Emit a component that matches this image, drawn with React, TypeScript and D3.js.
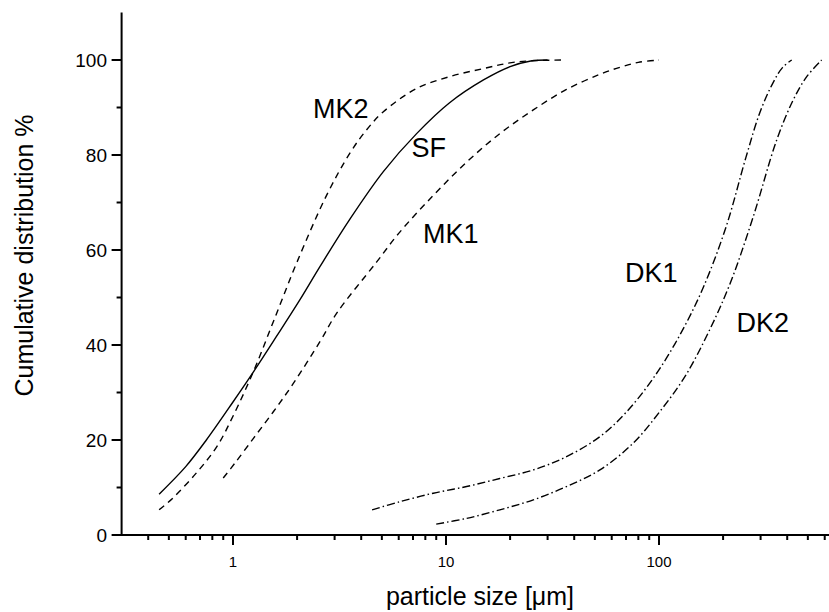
import React from "react";
import * as d3 from "d3";

// ---- data (particle size in µm, cumulative %) ----
const sfSize = [0.45, 0.6, 0.75, 1.0, 1.25, 1.6, 2.06, 2.56, 3.54, 5.08, 7.28, 10.4, 15, 20, 25, 30];
const sfCum = [8.6, 14.4, 20, 28, 34.4, 41.8, 49.5, 56.5, 66.5, 76.5, 84.5, 91, 95.8, 98.6, 99.8, 100];

const mk2Size = [0.45, 0.52, 0.68, 0.84, 1.0, 1.25, 1.55, 2.0, 2.75, 3.54, 4.24, 5.08, 7.28, 10.4, 15, 21.5, 35.5];
const mk2Cum = [5.3, 7.7, 13.3, 18.6, 25, 34.5, 45, 57.5, 71.5, 80.4, 85.3, 89.1, 94, 96.5, 98.2, 99.6, 100];

const mk1Size = [0.9, 1.02, 1.25, 1.55, 1.92, 2.56, 3.07, 4.73, 6.0, 8.72, 12.5, 17.9, 25.7, 36.8, 52.8, 66, 80, 100];
const mk1Cum = [12, 15.1, 20.4, 26, 31.9, 40.7, 46.7, 57.5, 63.5, 71.5, 78.5, 84.5, 89.5, 93.8, 97, 98.5, 99.5, 100];

const dk1Size = [4.5, 6.07, 8.72, 12.5, 17.9, 25.7, 36.8, 52.8, 70, 94, 125, 161, 207, 256, 298, 344, 380, 420];
const dk1Cum = [5.3, 7, 8.8, 10.2, 11.9, 13.7, 16.5, 20.7, 25.8, 33, 42, 52, 65, 79.5, 89, 95.3, 98.4, 100];

const dk2Size = [9, 12.5, 17.9, 25.7, 36.8, 52.8, 75.5, 101, 133, 170, 216, 277, 356, 426, 494, 580];
const dk2Cum = [2.3, 3.5, 5.3, 7.4, 10.2, 13.7, 19.3, 26, 33.5, 42.5, 53, 67, 83, 91.5, 96.5, 100];

const xMajorTicks = [1, 10, 100];
const yMajorTicks = [0, 20, 40, 60, 80, 100];
const yMinorTicks = [10, 30, 50, 70, 90];

const seriesNames = ["SF", "MK2", "MK1", "DK1", "DK2"];

export default function App() {
  const W = 829;
  const H = 612;
  const x0 = 121.6;
  const decade = 213;
  const xScale = d3
    .scaleLog()
    .domain([0.3, 630])
    .range([x0, x0 + decade * Math.log10(630 / 0.3)]);
  const yScale = d3.scaleLinear().domain([0, 110]).range([535, 12.5]);

  const line = d3
    .line<[number, number]>()
    .x((d) => xScale(d[0]))
    .y((d) => yScale(d[1]))
    .curve(d3.curveCatmullRom.alpha(0.5));

  const zip = (a: number[], b: number[]) => a.map((v, i) => [v, b[i]] as [number, number]);

  const series = [
    { name: seriesNames[0], pts: zip(sfSize, sfCum), dash: "none" },
    { name: seriesNames[1], pts: zip(mk2Size, mk2Cum), dash: "6.5,5" },
    { name: seriesNames[2], pts: zip(mk1Size, mk1Cum), dash: "6.5,5" },
    { name: seriesNames[3], pts: zip(dk1Size, dk1Cum), dash: "8,3,1.5,3" },
    { name: seriesNames[4], pts: zip(dk2Size, dk2Cum), dash: "8,3,1.5,3" },
  ];

  const labels = [
    { t: "MK2", x: 313, y: 118 },
    { t: "SF", x: 411.5, y: 157 },
    { t: "MK1", x: 423, y: 243 },
    { t: "DK1", x: 625, y: 282 },
    { t: "DK2", x: 736.5, y: 332 },
  ];

  const allX = xScale.ticks().filter((t) => t > 0.3 && t <= 630);
  const xMinor = allX.filter((t) => !xMajorTicks.includes(t));

  const font = "Liberation Sans, Arial, Helvetica, sans-serif";
  const axisY = yScale(0);
  const axisX = x0;

  return (
    <svg
      width={W}
      height={H}
      style={{ position: "absolute", left: 0, top: 0, background: "#fff" }}
      fontFamily={font}
    >
      <rect x={0} y={0} width={W} height={H} fill="#fff" />
      {/* curves */}
      {series.map((s) => (
        <path
          key={s.name}
          d={line(s.pts) || ""}
          fill="none"
          stroke="#000"
          strokeWidth={1.4}
          strokeDasharray={s.dash}
        />
      ))}
      {/* axes */}
      <line x1={axisX} x2={axisX} y1={yScale(110)} y2={axisY + 1} stroke="#000" strokeWidth={2} />
      <line x1={axisX - 1} x2={W} y1={axisY} y2={axisY} stroke="#000" strokeWidth={2} />
      {yMajorTicks.map((t) => (
        <g key={"ym" + t}>
          <line x1={axisX - 10} x2={axisX} y1={yScale(t)} y2={yScale(t)} stroke="#000" strokeWidth={2} />
          <text x={107} y={yScale(t)} dy="0.35em" textAnchor="end" fontSize={19}>
            {t}
          </text>
        </g>
      ))}
      {yMinorTicks.map((t) => (
        <line key={"yn" + t} x1={axisX - 5} x2={axisX} y1={yScale(t)} y2={yScale(t)} stroke="#000" strokeWidth={2} />
      ))}
      {xMajorTicks.map((t) => (
        <g key={"xm" + t}>
          <line x1={xScale(t)} x2={xScale(t)} y1={axisY} y2={axisY + 10} stroke="#000" strokeWidth={2} />
          <text x={xScale(t)} y={567} textAnchor="middle" fontSize={15}>
            {t}
          </text>
        </g>
      ))}
      {xMinor.map((t) => (
        <line key={"xn" + t} x1={xScale(t)} x2={xScale(t)} y1={axisY} y2={axisY + 5} stroke="#000" strokeWidth={2} />
      ))}
      {/* axis titles */}
      <text x={480} y={605} textAnchor="middle" fontSize={25}>
        particle size [μm]
      </text>
      <text
        transform={`translate(33,255.5) rotate(-90)`}
        textAnchor="middle"
        fontSize={25}
      >
        Cumulative distribution %
      </text>
      {/* curve labels */}
      {labels.map((l) => (
        <text key={l.t} x={l.x} y={l.y} fontSize={27}>
          {l.t}
        </text>
      ))}
    </svg>
  );
}
